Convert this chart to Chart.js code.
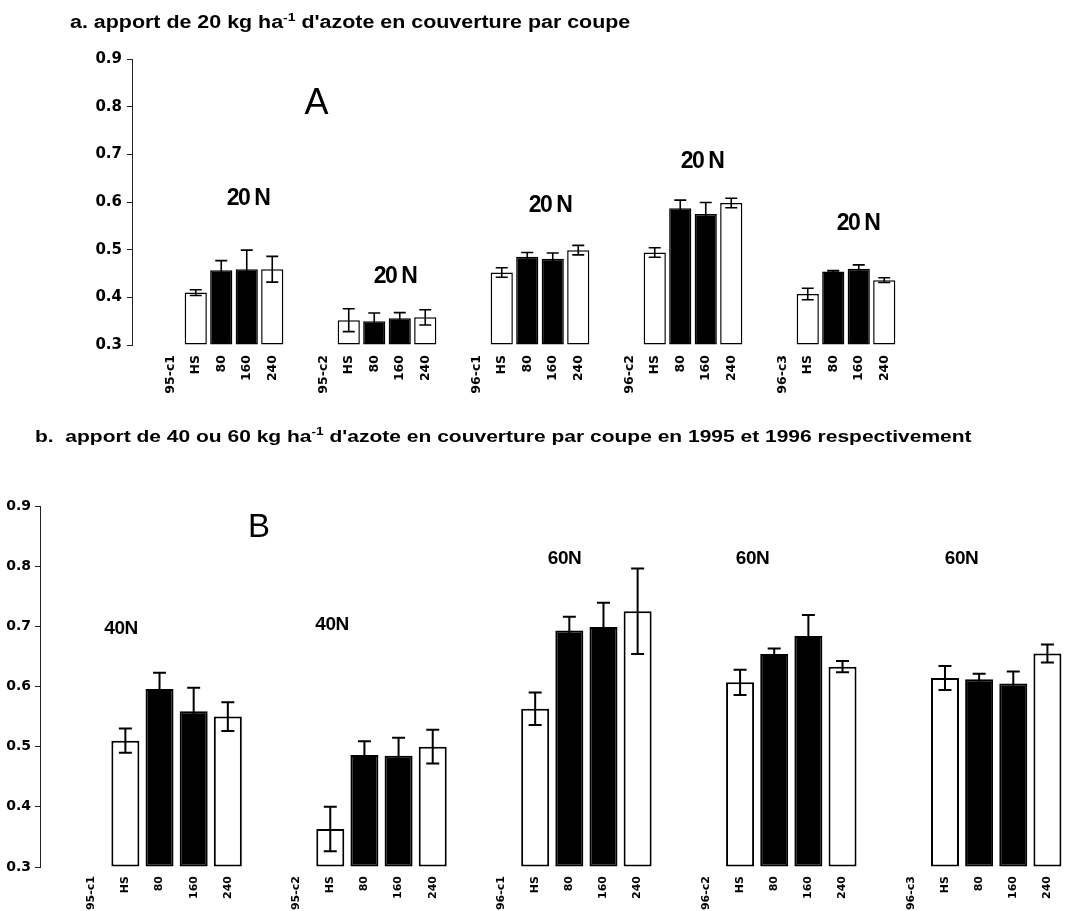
<!DOCTYPE html>
<html><head><meta charset="utf-8">
<script src="https://cdn.jsdelivr.net/npm/chart.js@4/dist/chart.umd.min.js"></script>
<style>
body{margin:0;background:#fff;width:1073px;height:911px;position:relative;overflow:hidden;font-family:"Liberation Sans",Arial,sans-serif;}
canvas{position:absolute;left:0;}
.title{position:absolute;font-weight:bold;white-space:nowrap;line-height:16px;color:#000;transform-origin:0 50%;}
.title sup{font-size:65%;line-height:0;vertical-align:baseline;position:relative;top:-0.6em}
</style></head><body>
<canvas id="c1" width="1073" height="420" style="top:0"></canvas>
<canvas id="c2" width="1073" height="491" style="top:420px"></canvas>
<div class="title" style="left:70px;top:14px;font-size:18px;transform:scaleX(1.19)">a. apport de 20 kg ha<sup>-1</sup> d'azote en couverture par coupe</div>
<div class="title" style="left:35px;top:429px;font-size:17px;transform:scaleX(1.235)">b.&nbsp; apport de 40 ou 60 kg ha<sup>-1</sup> d'azote en couverture par coupe en 1995 et 1996 respectivement</div>
<script>
// ---------- data ----------
const cuts = ['95-c1','95-c2','96-c1','96-c2','96-c3'];
const treatments = ['HS','80','160','240'];
const yTicks = [0.3,0.4,0.5,0.6,0.7,0.8,0.9];

// a. 20 kg N per cut
const topMean = [0.410,0.457,0.459,0.459,
                 0.352,0.350,0.356,0.358,
                 0.452,0.485,0.481,0.499,
                 0.494,0.587,0.575,0.598,
                 0.407,0.454,0.460,0.436];
const topErr  = [0.006,0.020,0.040,0.027,
                 0.024,0.017,0.012,0.016,
                 0.010,0.009,0.012,0.010,
                 0.010,0.017,0.024,0.010,
                 0.012,0.002,0.008,0.005];
const topNotes = ['20 N','20 N','20 N','20 N','20 N'];

// b. 40 or 60 kg N per cut
const botMean = [0.510,0.596,0.559,0.550,
                 0.363,0.486,0.485,0.500,
                 0.563,0.693,0.699,0.725,
                 0.607,0.654,0.684,0.633,
                 0.614,0.612,0.605,0.655];
const botErr  = [0.020,0.027,0.039,0.024,
                 0.037,0.023,0.030,0.028,
                 0.027,0.023,0.040,0.071,
                 0.021,0.009,0.035,0.0095,
                 0.020,0.009,0.020,0.015];
const botNotes = ['40N','40N','60N','60N','60N'];

// ---------- build category slots ----------
function build(means, errs){
  const labels=[''], data=[null], err=[null];
  cuts.forEach((c,g)=>{
    labels.push(c); data.push(null); err.push(null);
    treatments.forEach((t,k)=>{labels.push(t); data.push(means[g*4+k]); err.push(errs[g*4+k]);});
    if(g<cuts.length-1){labels.push(''); data.push(null); err.push(null);}
  });
  return {labels,data,err};
}

Chart.defaults.font.family = '"Liberation Sans", Arial, sans-serif';
Chart.defaults.color = '#000';
const TICKFONT = '"DejaVu Sans", "Liberation Sans", sans-serif';

const errorBars = {
  id:'errorBars',
  afterDatasetsDraw(chart, args, opts){
    const ctx=chart.ctx, meta=chart.getDatasetMeta(0), ys=chart.scales.y;
    const ds=chart.data.datasets[0];
    ctx.save(); ctx.strokeStyle='#000'; ctx.lineWidth=opts.lineWidth;
    meta.data.forEach((bar,i)=>{
      const v=ds.data[i], e=ds.errors[i];
      if(v==null||e==null) return;
      const x=bar.x, h=opts.cap/2;
      const yT=ys.getPixelForValue(v+e), yB=ys.getPixelForValue(v-e);
      ctx.beginPath();
      ctx.moveTo(x,yT); ctx.lineTo(x,yB);
      ctx.moveTo(x-h,yT); ctx.lineTo(x+h,yT);
      ctx.moveTo(x-h,yB); ctx.lineTo(x+h,yB);
      ctx.stroke();
    });
    ctx.restore();
  }
};

const textNotes = {
  id:'textNotes',
  afterDraw(chart, args, opts){
    const ctx=chart.ctx;
    ctx.save(); ctx.fillStyle='#000'; ctx.textAlign='center'; ctx.textBaseline='alphabetic';
    opts.items.forEach(it=>{
      ctx.font=it.font;
      ctx.letterSpacing=(it.spacing||0)+'px';
      ctx.fillText(it.text,it.x,it.y);
    });
    ctx.restore();
  }
};

function makeChart(id, means, errs, cfg){
  const b = build(means, errs);
  return new Chart(document.getElementById(id),{
    type:'bar',
    data:{labels:b.labels, datasets:[{
      data:b.data, errors:b.err, base:0.3,
      backgroundColor:c=>(b.labels[c.dataIndex]==='80'||b.labels[c.dataIndex]==='160')?'#000':'#fff',
      borderColor:'#000', borderWidth:cfg.bw, borderSkipped:false,
      barPercentage:cfg.barPct, categoryPercentage:1
    }]},
    options:{
      responsive:false, animation:false, devicePixelRatio:1,
      layout:{padding:cfg.padding},
      plugins:{legend:{display:false}, tooltip:{enabled:false}, title:{display:false},
        errorBars:{lineWidth:cfg.elw, cap:cfg.cap},
        textNotes:{items:cfg.notes}},
      scales:{
        x:{afterFit(s){s.height=cfg.xh;}, border:{display:false}, grid:{display:false, drawTicks:false},
           ticks:{autoSkip:false, minRotation:90, maxRotation:90, padding:cfg.xpad, color:'#000',
                  font:{family:TICKFONT, size:cfg.xfs, weight:'bold'}}},
        y:{min:0.3, max:0.9, afterFit(s){s.width=cfg.yw;},
           afterBuildTicks(s){s.ticks=yTicks.map(v=>({value:v}));},
           border:{display:true, color:'#222', width:1},
           grid:{display:true, drawOnChartArea:false, drawTicks:true, tickLength:5, color:'#222'},
           ticks:{padding:cfg.ypad, color:'#000', font:{family:TICKFONT, size:cfg.yfs, weight:'bold'}, callback:v=>Number(v).toFixed(1)}}
      }
    },
    plugins:[errorBars, textNotes]
  });
}

makeChart('c1', topMean, topErr, {
  padding:{left:0, right:176, top:59, bottom:0}, yw:132, xh:75, xpad:10, xfs:12.5, yfs:15, ypad:5,
  barPct:0.87, bw:1.5, elw:1.6, cap:12,
  notes:[
    {text:'A', x:316.5, y:114, font:'36px "Liberation Sans", Arial'},
    {text:topNotes[0], x:248, y:205, font:'bold 23px "Liberation Sans", Arial', spacing:-1.5},
    {text:topNotes[1], x:395, y:283, font:'bold 23px "Liberation Sans", Arial', spacing:-1.5},
    {text:topNotes[2], x:550, y:212, font:'bold 23px "Liberation Sans", Arial', spacing:-1.5},
    {text:topNotes[3], x:702, y:168, font:'bold 23px "Liberation Sans", Arial', spacing:-1.5},
    {text:topNotes[4], x:858, y:230, font:'bold 23px "Liberation Sans", Arial', spacing:-1.5}
  ]
});

makeChart('c2', botMean, botErr, {
  padding:{left:0, right:8.5, top:86, bottom:0}, yw:40, xh:44, xpad:9, xfs:11, yfs:14, ypad:4,
  barPct:0.82, bw:2, elw:2, cap:13,
  notes:[
    {text:'B', x:259, y:117, font:'33px "Liberation Sans", Arial'},
    {text:botNotes[0], x:121, y:214, font:'bold 19px "Liberation Sans", Arial', spacing:-0.5},
    {text:botNotes[1], x:332, y:210, font:'bold 19px "Liberation Sans", Arial', spacing:-0.5},
    {text:botNotes[2], x:564.5, y:144, font:'bold 19px "Liberation Sans", Arial', spacing:-0.5},
    {text:botNotes[3], x:752.5, y:144, font:'bold 19px "Liberation Sans", Arial', spacing:-0.5},
    {text:botNotes[4], x:961.5, y:144, font:'bold 19px "Liberation Sans", Arial', spacing:-0.5}
  ]
});
</script>
</body></html>
